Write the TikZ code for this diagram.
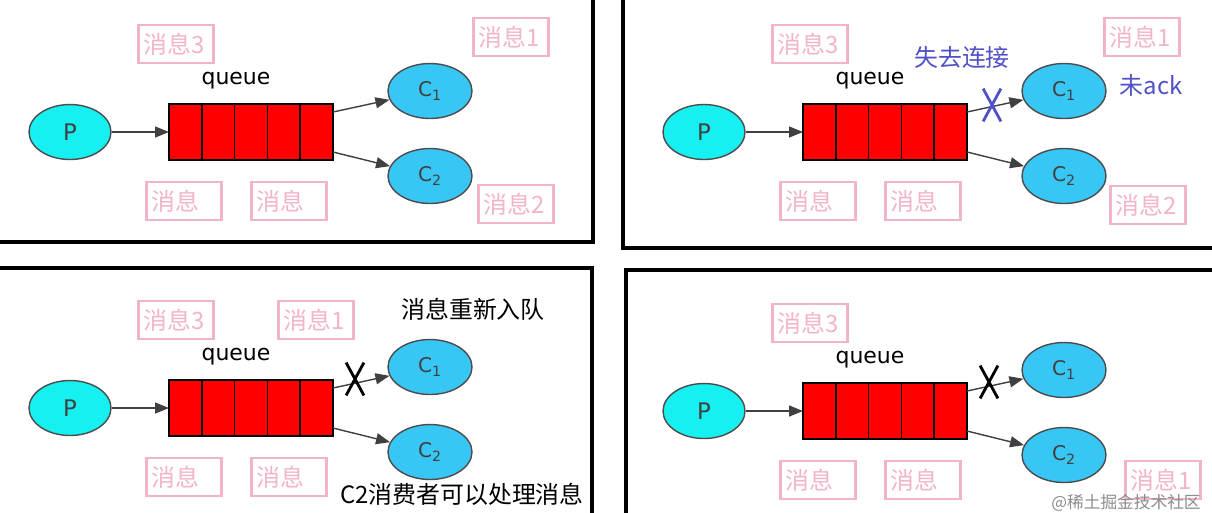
\documentclass[tikz,border=0pt]{standalone}
\usepackage{fontspec}
\setmainfont{DejaVu Sans}
\newfontfamily\cjk{Noto Sans CJK SC}
\usetikzlibrary{arrows.meta, positioning, shapes.geometric, shapes.misc}

\definecolor{prodcyan}{RGB}{22,240,240}
\definecolor{conblue}{RGB}{56,198,245}
\definecolor{msgpink}{RGB}{243,180,202}
\definecolor{notepurple}{RGB}{80,80,200}

\begin{document}
\begin{tikzpicture}[
    x=0.02cm, y=-0.02cm,
    >={Triangle[length=0.28cm, width=0.22cm]},
    prod/.style={ellipse, draw=black!70, thick, fill=prodcyan,
                 minimum width=1.64cm, minimum height=1.1cm,
                 font=\fontsize{13}{14}\selectfont, text=black!75},
    cons/.style={ellipse, draw=black!70, thick, fill=conblue,
                 minimum width=1.68cm, minimum height=1.1cm,
                 font=\fontsize{11.5}{13}\selectfont, text=black!75},
    cell/.style={draw, thick, fill=red, minimum width=0.656cm,
                 minimum height=1.12cm, inner sep=0pt, outer sep=0pt},
    msg/.style={draw=msgpink, line width=1.4pt, text=msgpink,
                font=\cjk\fontsize{13.6}{14}\selectfont, text width=1.3cm,
                inner xsep=0.1cm, minimum height=0.76cm, align=left},
    note/.style={font=\cjk\fontsize{13.6}{14}\selectfont},
    xmark/.style={cross out, draw, line width=1.6pt, minimum width=0.3cm,
                  minimum height=0.6cm, inner sep=0pt},
    link/.style={->, draw=black!75, thick},
    frame/.style={line width=1.8pt}
  ]
  \clip (0,0) rectangle (1212,512);
  \fill[white] (0,0) rectangle (1212,512);

  % panel frames
  \draw[frame] (-10,242) -- (593,242) -- (593,-10);
  \draw[frame] (623,-10) -- (623,248) -- (1222,248);
  \draw[frame] (-10,268) -- (592,268) -- (592,522);
  \draw[frame] (1222,270) -- (626,270) -- (626,522);

  % same queue in every panel
  \foreach \n/\dx/\dy in {a/0/0, b/634/0, c/0/276, d/634/279} {
    \begin{scope}[shift={(\dx,\dy)}]
      \node[prod] (p\n) at (70,132) {P};
      \node[cell] (q\n1) at (185.4,132) {};
      \foreach \i [count=\j from 2] in {1,...,4}
        \node[cell, right=0pt of q\n\i] (q\n\j) {};
      \node[font=\fontsize{12.5}{14}\selectfont] (ql\n) at (236,81) {queue};
      \node[cons] (c\n1) at (430,91) {C\textsubscript{1}};
      \node[cons] (c\n2) at (430,176) {C\textsubscript{2}};

      \draw[link] (p\n.east) -- (q\n1.west);
      \draw[link] ([yshift=0.4cm]q\n5.east) -- (c\n1);
      \draw[link] ([yshift=-0.4cm]q\n5.east) -- (c\n2);

      \node[msg] (m3\n) at (176,44) {消息3};
      \node[msg] (ma\n) at (184,201) {消息};
      \node[msg] (mb\n) at (289,201) {消息};
    \end{scope}
  }

  % panel 1
  \node[msg] (m1a) at (511,37) {消息1};
  \node[msg] (m2a) at (516,204) {消息2};

  % panel 2: C1 drops the link
  \node[msg] (m1b) at (1142,37) {消息1};
  \node[msg] (m2b) at (1148,205) {消息2};
  \node[note, text=notepurple] (lost) at (962,57) {失去连接};
  \node[note, text=notepurple] (noack) at (1151,85) {未ack};
  \node[xmark, draw=notepurple] (xb) at (992,105) {};

  % panel 3: message goes back to the queue
  \node[msg] (m1c) at (316,320) {消息1};
  \node[note] (requeue) at (473,309) {消息重新入队};
  \node[xmark] (xc) at (355,379) {};
  \node[note] (c2ok) at (462,494) {C2消费者可以处理消息};

  % panel 4
  \node[xmark] (xd) at (989,382) {};
  \node[msg] (m1d) at (1163,480) {消息1};
  \node[font=\cjk\fontsize{9.5}{11}\selectfont, text=black!45] (mark)
    at (1126,503) {@稀土掘金技术社区};
\end{tikzpicture}
\end{document}
